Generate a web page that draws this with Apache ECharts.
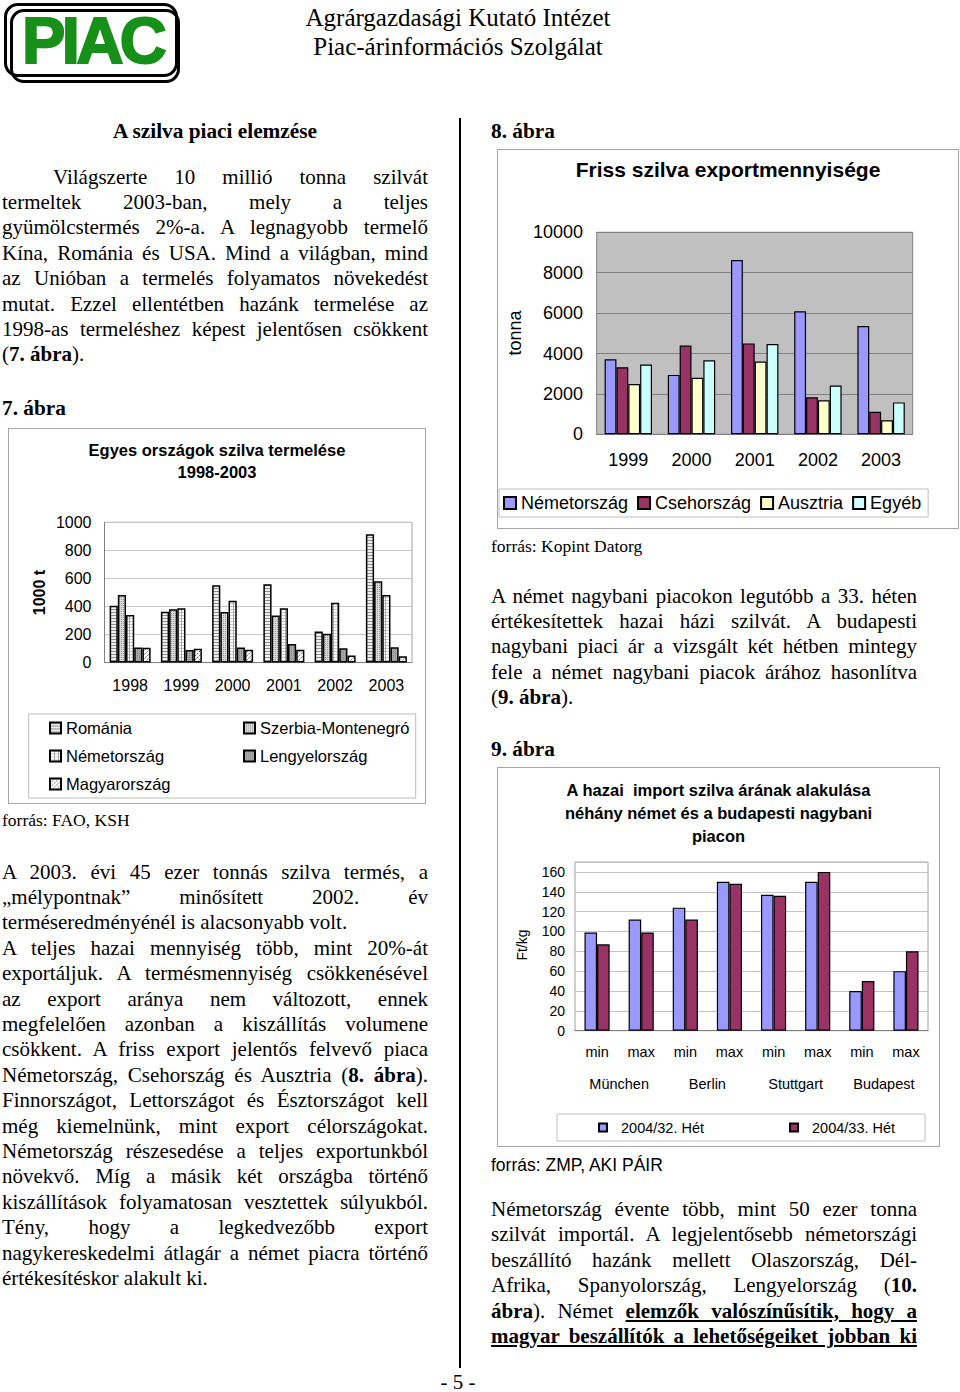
<!DOCTYPE html>
<html><head><meta charset="utf-8">
<script src="https://cdn.jsdelivr.net/npm/echarts@6/dist/echarts.min.js"></script>
<style>
html,body{margin:0;padding:0;background:#fff;}
body{width:960px;height:1392px;position:relative;overflow:hidden;font-family:'Liberation Serif','Times New Roman',serif;color:#000;}
.para{position:absolute;width:426px;font-size:21px;line-height:25.4px;}
.para div{text-align:justify;text-align-last:justify;}
.para div.l{text-align:left;text-align-last:left;}
.h{position:absolute;font-size:21.3px;font-weight:bold;line-height:25.4px;white-space:nowrap;}
.src{position:absolute;font-size:17.5px;line-height:20px;white-space:nowrap;}
.box{position:absolute;border:1px solid #a6a6a6;box-sizing:border-box;}
.logo{position:absolute;border:3px solid #000;border-radius:14px;box-sizing:border-box;}
</style></head>
<body>
<div class="logo" style="left:4px;top:3px;width:174px;height:74px;"></div>
<div class="logo" style="left:10px;top:9px;width:170px;height:74px;"></div>
<div style="position:absolute;left:22px;top:8px;font-family:'Liberation Sans',Arial,sans-serif;font-weight:bold;font-size:65px;line-height:65px;color:#17901a;-webkit-text-stroke:2px #17901a;letter-spacing:-3.5px;">PIAC</div>
<div style="position:absolute;left:258px;top:3px;width:400px;text-align:center;font-size:25px;line-height:29px;">Agrárgazdasági Kutató Intézet<br>Piac-árinformációs Szolgálat</div>

<div style="position:absolute;left:458.5px;top:118px;width:2px;height:1250px;background:#000;"></div>

<div class="h" style="left:2px;top:118.5px;width:426px;text-align:center;">A szilva piaci elemzése</div>
<div class="para" style="left:2px;top:164.5px;">
<div style="text-indent:51px;">Világszerte 10 millió tonna szilvát</div>
<div>termeltek 2003-ban, mely a teljes</div>
<div>gyümölcstermés 2%-a. A legnagyobb termelő</div>
<div>Kína, Románia és USA. Mind a világban, mind</div>
<div>az Unióban a termelés folyamatos növekedést</div>
<div>mutat. Ezzel ellentétben hazánk termelése az</div>
<div>1998-as termeléshez képest jelentősen csökkent</div>
<div class="l">(<b>7. ábra</b>).</div>
</div>
<div class="h" style="left:2px;top:396px;">7. ábra</div>
<div id="c7" class="box" style="left:8px;top:428px;width:418px;height:376px;"></div>
<div class="src" style="left:2px;top:810px;">forrás: FAO, KSH</div>

<div class="para" style="left:2px;top:859.5px;">
<div>A 2003. évi 45 ezer tonnás szilva termés, a</div>
<div>„mélypontnak” minősített 2002. év</div>
<div class="l">terméseredményénél is alacsonyabb volt.</div>
<div>A teljes hazai mennyiség több, mint 20%-át</div>
<div>exportáljuk. A termésmennyiség csökkenésével</div>
<div>az export aránya nem változott, ennek</div>
<div>megfelelően azonban a kiszállítás volumene</div>
<div>csökkent. A friss export jelentős felvevő piaca</div>
<div>Németország, Csehország és Ausztria (<b>8. ábra</b>).</div>
<div>Finnországot, Lettországot és Észtországot kell</div>
<div>még kiemelnünk, mint export célországokat.</div>
<div>Németország részesedése a teljes exportunkból</div>
<div>növekvő. Míg a másik két országba történő</div>
<div>kiszállítások folyamatosan vesztettek súlyukból.</div>
<div>Tény, hogy a legkedvezőbb export</div>
<div>nagykereskedelmi átlagár a német piacra történő</div>
<div class="l">értékesítéskor alakult ki.</div>
</div>

<div class="h" style="left:491px;top:119px;">8. ábra</div>
<div id="c8" class="box" style="left:497px;top:149px;width:462px;height:380px;"></div>
<div class="src" style="left:491px;top:536px;">forrás: Kopint Datorg</div>

<div class="para" style="left:491px;top:583.5px;">
<div>A német nagybani piacokon legutóbb a 33. héten</div>
<div>értékesítettek hazai házi szilvát. A budapesti</div>
<div>nagybani piaci ár a vizsgált két hétben mintegy</div>
<div>fele a német nagybani piacok árához hasonlítva</div>
<div class="l">(<b>9. ábra</b>).</div>
</div>
<div class="h" style="left:491px;top:737px;">9. ábra</div>
<div id="c9" class="box" style="left:497px;top:767px;width:443px;height:380px;"></div>
<div class="src" style="left:491px;top:1154.6px;font-family:'Liberation Sans',Arial,sans-serif;">forrás: ZMP, AKI PÁIR</div>

<div class="para" style="left:491px;top:1197px;">
<div>Németország évente több, mint 50 ezer tonna</div>
<div>szilvát importál. A legjelentősebb németországi</div>
<div>beszállító hazánk mellett Olaszország, Dél-</div>
<div>Afrika, Spanyolország, Lengyelország (<b>10.</b></div>
<div><b>ábra</b>). Német <b><u>elemzők valószínűsítik, hogy a</u></b></div>
<div><b><u>magyar beszállítók a lehetőségeiket jobban ki</u></b></div>
</div>
<div style="position:absolute;left:408px;top:1373px;width:100px;text-align:center;font-size:21px;line-height:18px;">- 5 -</div>

<script>
// ---- 7. ábra: Egyes országok szilva termelése (1000 t)
const years7 = ['1998', '1999', '2000', '2001', '2002', '2003'];
const romania = [405, 363, 552, 559, 222, 914];
const szerbia = [482, 381, 361, 335, 206, 580];
const nemet7 = [340, 388, 441, 388, 426, 481];
const lengyel = [107, 90, 107, 132, 103, 110];
const magyar = [105, 99, 92, 91, 50, 45];
const ticks7 = [0, 200, 400, 600, 800, 1000];

// ---- 8. ábra: Friss szilva exportmennyisége (tonna)
const years8 = ['1999', '2000', '2001', '2002', '2003'];
const nemet8 = [3710, 2940, 8630, 6090, 5360];
const cseh = [3320, 4390, 4500, 1830, 1120];
const ausztria = [2490, 2800, 3600, 1680, 690];
const egyeb = [3450, 3660, 4470, 2410, 1580];

// ---- 9. ábra: import szilva ára (Ft/kg)
const markets = ['München', 'Berlin', 'Stuttgart', 'Budapest'];
const minmax = ['min', 'max', 'min', 'max', 'min', 'max', 'min', 'max'];
const week32 = [99, 112, 124, 150, 137, 150, 40, 60];
const week33 = [87, 99, 112, 148, 136, 160, 50, 80];

const SANS = "'Liberation Sans', Arial, Helvetica, sans-serif";
const plain = v => String(v);

function pat(w, h, bg, pts) {
  const c = document.createElement('canvas');
  c.width = w; c.height = h;
  const g = c.getContext('2d');
  g.fillStyle = bg; g.fillRect(0, 0, w, h);
  pts.forEach(p => { g.fillStyle = p[4]; g.fillRect(p[0], p[1], p[2], p[3]); });
  return { image: c.toDataURL(), repeat: 'repeat', imageWidth: w, imageHeight: h };
}
const pRom = pat(2, 3, '#efefef', [[0, 0, 2, 1, '#8f8f8f']]);
const pSzb = pat(2, 2, '#d8d8d8', [[0, 0, 1, 1, '#9a9a9a']]);
const pNem = pat(4, 3, '#ffffff', [[0, 0, 4, 1, '#c8c8c8'], [0, 0, 1, 3, '#a8a8a8']]);
const pLen = pat(2, 2, '#a8a8a8', [[0, 0, 1, 1, '#8a8a8a']]);
const pMag = pat(4, 4, '#ffffff', [[0, 0, 1, 1, '#808080'], [2, 2, 1, 1, '#808080'], [1, 3, 1, 1, '#b0b0b0'], [3, 1, 1, 1, '#b0b0b0']]);

function bar7(name, data, color) {
  return { name, type: 'bar', data, barGap: '0%', barCategoryGap: '20%',
    itemStyle: { color, borderColor: '#000', borderWidth: 1.5 } };
}

const c7 = echarts.init(document.getElementById('c7'), null, { renderer: 'svg' });
c7.setOption({
  animation: false,
  textStyle: { fontFamily: SANS, color: '#000' },
  title: { text: 'Egyes országok szilva termelése\n1998-2003', left: 'center', top: 5,
    textStyle: { fontFamily: SANS, fontSize: 16.5, fontWeight: 'bold', lineHeight: 22, color: '#000' } },
  grid: { left: 95.5, right: 13, top: 93.3, bottom: 140.4, show: true, borderColor: '#a0a0a0', borderWidth: 1, outerBoundsMode: 'none' },
  xAxis: { type: 'category', data: years7,
    axisLine: { lineStyle: { color: '#808080' } },
    axisTick: { length: 5, lineStyle: { color: '#808080' } },
    axisLabel: { fontFamily: SANS, fontSize: 16, color: '#000', margin: 15 } },
  yAxis: { type: 'value', min: ticks7[0], max: ticks7[ticks7.length - 1], interval: 200,
    axisLine: { show: true, lineStyle: { color: '#808080' } }, axisTick: { show: false },
    splitLine: { lineStyle: { color: '#c8c8c8' } },
    axisLabel: { fontFamily: SANS, fontSize: 16, color: '#000', margin: 13, formatter: plain } },
  legend: [
    { data: ['Románia', 'Németország', 'Magyarország'], orient: 'vertical', left: 35, top: 285,
      itemWidth: 11, itemHeight: 11, itemGap: 10, icon: 'rect',
      textStyle: { fontFamily: SANS, fontSize: 16.5, lineHeight: 18, color: '#000' } },
    { data: ['Szerbia-Montenegró', 'Lengyelország'], orient: 'vertical', left: 229, top: 285,
      itemWidth: 11, itemHeight: 11, itemGap: 10, icon: 'rect',
      textStyle: { fontFamily: SANS, fontSize: 16.5, lineHeight: 18, color: '#000' } }
  ],
  graphic: [
    { type: 'rect', shape: { x: 19.7, y: 285, width: 387, height: 84 }, style: { fill: 'none', stroke: '#bdbdbd', lineWidth: 1 } },
    { type: 'text', x: 30, y: 163.5, rotation: Math.PI / 2,
      style: { text: '1000 t', font: "bold 16px 'Liberation Sans', Arial", fill: '#000', align: 'center', verticalAlign: 'middle', textAlign: 'center', textVerticalAlign: 'middle' } }
  ],
  series: [
    bar7('Románia', romania, pRom),
    bar7('Szerbia-Montenegró', szerbia, pSzb),
    bar7('Németország', nemet7, pNem),
    bar7('Lengyelország', lengyel, pLen),
    bar7('Magyarország', magyar, pMag)
  ]
});

function bar8(name, data, color) {
  return { name, type: 'bar', data, barGap: '0%', barCategoryGap: '25%',
    itemStyle: { color, borderColor: '#000', borderWidth: 1.2 } };
}
const c8 = echarts.init(document.getElementById('c8'), null, { renderer: 'svg' });
c8.setOption({
  animation: false,
  textStyle: { fontFamily: SANS, color: '#000' },
  title: { text: 'Friss szilva exportmennyisége', left: 'center', top: 4,
    textStyle: { fontFamily: SANS, fontSize: 21, fontWeight: 'bold', color: '#000' } },
  grid: { left: 98.7, right: 45.3, top: 82.3, bottom: 93.7, show: true, backgroundColor: '#c0c0c0', borderColor: '#808080', borderWidth: 1, outerBoundsMode: 'none' },
  xAxis: { type: 'category', data: years8,
    axisLine: { lineStyle: { color: '#808080' } },
    axisTick: { length: 5, lineStyle: { color: '#808080' } },
    axisLabel: { fontFamily: SANS, fontSize: 18, color: '#000', margin: 17 } },
  yAxis: { type: 'value', min: 0, max: 10000, interval: 2000,
    axisLine: { show: false }, axisTick: { show: false },
    splitLine: { lineStyle: { color: '#808080' } },
    axisLabel: { fontFamily: SANS, fontSize: 18, color: '#000', margin: 13.7, formatter: plain } },
  legend: { left: 1, top: 339, padding: [5, 7, 5, 4], itemWidth: 12, itemHeight: 12, itemGap: 9, icon: 'rect',
    borderColor: '#c0c0c0', borderWidth: 1,
    textStyle: { fontFamily: SANS, fontSize: 18, color: '#000' } },
  graphic: [
    { type: 'text', x: 17, y: 183, rotation: Math.PI / 2,
      style: { text: 'tonna', font: "18px 'Liberation Sans', Arial", fill: '#000', align: 'center', verticalAlign: 'middle', textAlign: 'center', textVerticalAlign: 'middle' } }
  ],
  series: [
    bar8('Németország', nemet8, '#9999ff'),
    bar8('Csehország', cseh, '#993366'),
    bar8('Ausztria', ausztria, '#ffffcc'),
    bar8('Egyéb', egyeb, '#ccffff')
  ]
});

function bar9(name, data, color) {
  return { name, type: 'bar', data, barGap: '0%', barCategoryGap: '43%', xAxisIndex: 0,
    itemStyle: { color, borderColor: '#000', borderWidth: 1.2 } };
}
const c9 = echarts.init(document.getElementById('c9'), null, { renderer: 'svg' });
c9.setOption({
  animation: false,
  textStyle: { fontFamily: SANS, color: '#000' },
  title: { text: 'A hazai  import szilva árának alakulása\nnéhány német és a budapesti nagybani\npiacon', left: 'center', top: 5.5,
    textStyle: { fontFamily: SANS, fontSize: 16.5, fontWeight: 'bold', lineHeight: 23, color: '#000' } },
  grid: { left: 77, right: 11, top: 94, bottom: 115.3, show: true, borderColor: '#a0a0a0', borderWidth: 1, outerBoundsMode: 'none' },
  xAxis: [
    { type: 'category', data: minmax, position: 'bottom',
      axisLine: { lineStyle: { color: '#808080' } },
      axisTick: { length: 33, lineStyle: { color: '#b0b0b0' } },
      axisLabel: { fontFamily: SANS, fontSize: 14.5, color: '#000', margin: 14 } },
    { type: 'category', data: markets, position: 'bottom',
      axisLine: { show: false },
      axisTick: { length: 65, lineStyle: { color: '#b0b0b0' } },
      axisLabel: { fontFamily: SANS, fontSize: 14.5, color: '#000', margin: 46 } }
  ],
  yAxis: { type: 'value', min: 0, max: 170, interval: 20,
    axisLine: { show: false }, axisTick: { show: false },
    splitLine: { lineStyle: { color: '#c4c4c4' } },
    axisLabel: { fontFamily: SANS, fontSize: 14, color: '#000', margin: 10, showMaxLabel: false, formatter: plain } },
  legend: { left: 59, top: 346, padding: [6, 30, 6, 41], itemWidth: 8, itemHeight: 8, itemGap: 85, icon: 'rect',
    borderColor: '#c0c0c0', borderWidth: 1,
    textStyle: { fontFamily: SANS, fontSize: 14.5, color: '#000', padding: [0, 0, 0, 9] } },
  graphic: [
    { type: 'text', x: 24, y: 177, rotation: Math.PI / 2,
      style: { text: 'Ft/kg', font: "14px 'Liberation Sans', Arial", fill: '#000', align: 'center', verticalAlign: 'middle', textAlign: 'center', textVerticalAlign: 'middle' } }
  ],
  series: [
    bar9('2004/32. Hét', week32, '#9999ff'),
    bar9('2004/33. Hét', week33, '#993366')
  ]
});
</script>
</body></html>
